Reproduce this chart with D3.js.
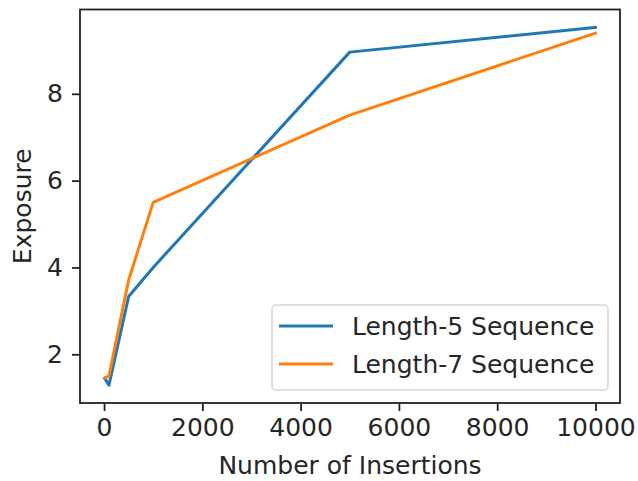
<!DOCTYPE html>
<html>
<head>
<meta charset="utf-8">
<script src="https://cdn.jsdelivr.net/npm/d3@7"></script>
<style>
  html, body { margin: 0; padding: 0; background: #fff; }
  svg { display: block; }
  text { font-family: "DejaVu Sans", sans-serif; }
</style>
</head>
<body>
<svg id="chart" width="638" height="481"></svg>
<script>
const insertions = [10, 100, 500, 1000, 5000, 10000];
const length5 = [1.45, 1.29, 3.33, 4.0, 8.96, 9.53];
const length7 = [1.45, 1.5, 3.71, 5.50, 7.51, 9.40];
const seriesNames = ["Length-5 Sequence", "Length-7 Sequence"];
const seriesColors = ["#1f77b4", "#ff7f0e"];
const xTicks = [0, 2000, 4000, 6000, 8000, 10000];
const yTicks = [2, 4, 6, 8];
const xLabel = "Number of Insertions";
const yLabel = "Exposure";

const svg = d3.select("#chart");
const plotL = 80, plotR = 620, plotT = 9.5, plotB = 403;

const xMin = d3.min(insertions), xMax = d3.max(insertions);
const xPad = (xMax - xMin) * 0.05;
const allY = length5.concat(length7);
const yMin = d3.min(allY), yMax = d3.max(allY);
const yPad = (yMax - yMin) * 0.05;

const x = d3.scaleLinear().domain([xMin - xPad, xMax + xPad]).range([plotL, plotR]);
const y = d3.scaleLinear().domain([yMin - yPad, yMax + yPad]).range([plotB, plotT]);

const fontSize = 25;
const textColor = "#262626";

// Axes
const xAxis = svg.append("g")
  .attr("transform", `translate(0,${plotB})`)
  .call(d3.axisBottom(x).tickValues(xTicks).tickFormat(d3.format("d")).tickSize(8).tickPadding(7));
const yAxis = svg.append("g")
  .attr("transform", `translate(${plotL},0)`)
  .call(d3.axisLeft(y).tickValues(yTicks).tickFormat(d3.format("d")).tickSize(8).tickPadding(9));
[xAxis, yAxis].forEach(g => {
  g.select(".domain").remove();
  g.selectAll(".tick line").attr("stroke", "#222").attr("stroke-width", 1.8);
  g.selectAll(".tick text").attr("fill", textColor).style("font-size", fontSize + "px").style("font-family", "DejaVu Sans");
});

// Lines
const series = [length5, length7];
const line = d3.line().x(d => x(d[0])).y(d => y(d[1]));
series.forEach((vals, i) => {
  svg.append("path")
    .datum(insertions.map((v, j) => [v, vals[j]]))
    .attr("fill", "none")
    .attr("stroke", seriesColors[i])
    .attr("stroke-width", 3)
    .attr("stroke-linejoin", "round")
    .attr("stroke-linecap", "square")
    .attr("d", line);
});

// Spines
svg.append("rect")
  .attr("x", plotL).attr("y", plotT)
  .attr("width", plotR - plotL).attr("height", plotB - plotT)
  .attr("fill", "none").attr("stroke", "#222").attr("stroke-width", 1.8);

// Axis labels
svg.append("text")
  .attr("x", (plotL + plotR) / 2).attr("y", 474)
  .attr("text-anchor", "middle")
  .attr("fill", textColor)
  .style("font-size", fontSize + "px")
  .text(xLabel);
svg.append("text")
  .attr("transform", `translate(31,${(plotT + plotB) / 2}) rotate(-90)`)
  .attr("text-anchor", "middle")
  .attr("fill", textColor)
  .style("font-size", fontSize + "px")
  .text(yLabel);

// Legend
const lg = svg.append("g");
lg.append("rect")
  .attr("x", 272).attr("y", 305).attr("width", 336).attr("height", 85)
  .attr("rx", 4).attr("ry", 4)
  .attr("fill", "#fff").attr("fill-opacity", 0.8)
  .attr("stroke", "#d6d6d6").attr("stroke-width", 1.5);
seriesNames.forEach((name, i) => {
  const cy = 326 + i * 38;
  lg.append("line")
    .attr("x1", 279).attr("x2", 333).attr("y1", cy).attr("y2", cy)
    .attr("stroke", seriesColors[i]).attr("stroke-width", 3);
  lg.append("text")
    .attr("x", 352).attr("y", cy + 8.5)
    .attr("fill", textColor)
    .style("font-size", fontSize + "px")
    .text(name);
});
</script>
</body>
</html>
